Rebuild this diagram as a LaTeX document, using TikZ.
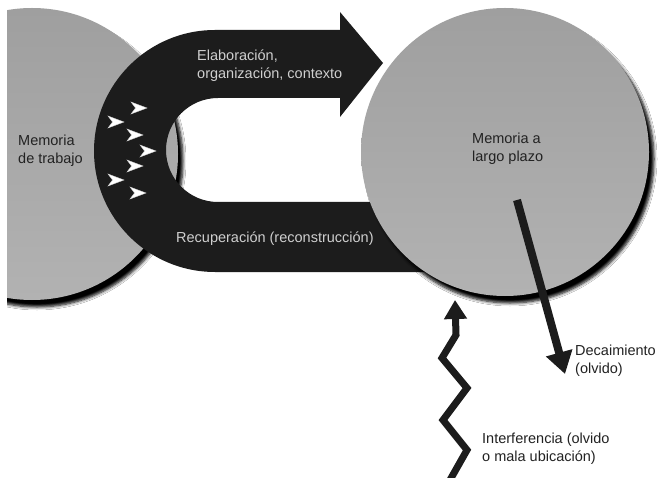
\documentclass[tikz,border=0pt]{standalone}
\usepackage{fontspec}
\setmainfont{Liberation Sans}
\usetikzlibrary{arrows.meta,shadows.blur}
\definecolor{bandgray}{HTML}{1C1C1C}
\definecolor{memgray}{HTML}{9F9F9F}
\definecolor{memlight}{HTML}{B2B2B2}
\definecolor{bandtext}{HTML}{CFCFCF}
\definecolor{inktext}{HTML}{222222}
\begin{document}
\begin{tikzpicture}[x=1pt,y=-1pt,>={Triangle[width=22pt,length=19pt]},
  every node/.style={font=\fontsize{14.5}{18}\selectfont,inner sep=0pt,align=left,anchor=north west},
  mem/.style={top color=memgray,bottom color=memlight,blur shadow={shadow xshift=5pt,shadow yshift=-7pt,shadow blur radius=3pt,shadow blur steps=6,shadow opacity=100}},
  chev/.style={fill=white,draw=white!80!black,line width=.4pt},
  fat/.style={draw=bandgray,line width=7pt,->}]
\useasboundingbox (0,0) rectangle (660,478);
\fill[white] (0,0) rectangle (660,478);
% memoria de trabajo
\begin{scope}
\clip (7,0) rectangle (660,478);
\shade[mem] (32,154) circle[radius=146pt];
\end{scope}
% banda: elaboracion arriba, recuperacion abajo
\fill[bandgray] (480,272) -- (215,272) arc[start angle=270,end angle=90,radius=121pt]
  -- (340,30) -- (340,12) -- (383,63) -- (340,117) -- (340,98)
  -- (218,98) arc[start angle=90,end angle=270,radius=52pt] -- (480,202) -- cycle;
\foreach \x/\y in {138/108,115/122,134/135,147/151,134/166,115/180,137/193}
  \fill[chev] (\x,\y) ++(9,0) -- ++(-16,-6) -- ++(4.5,6) -- ++(-4.5,6) -- cycle;
% memoria a largo plazo
\shade[mem] (505,152) circle[radius=144pt];
\node[text=inktext] (wm) at (18,135) {Memoria\\de trabajo};
\node[text=inktext] (ltm) at (472,133) {Memoria a\\largo plazo};
\node[text=bandtext] (elab) at (197,50) {Elaboración,\\organización, contexto};
\node[text=bandtext] (recup) at (176,232) {Recuperación (reconstrucción)};
\node[text=inktext] (decay) at (575,345) {Decaimiento\\(olvido)};
\node[text=inktext] (interf) at (482,433) {Interferencia (olvido\\o mala ubicación)};
% flechas de olvido
\coordinate (decay from) at (517,200);
\coordinate (decay to) at (565,374);
\draw[fat,line width=8pt,-{Triangle[width=26pt,length=22pt]}] (decay from) -- (decay to);
\coordinate (zig from) at (450,480);
\coordinate (zig to) at (455,300);
\draw[fat] (zig from) -- (467,450) -- (443,420) -- (467,388) -- (442,358) -- (456,335) -- (zig to);
\end{tikzpicture}
\end{document}
